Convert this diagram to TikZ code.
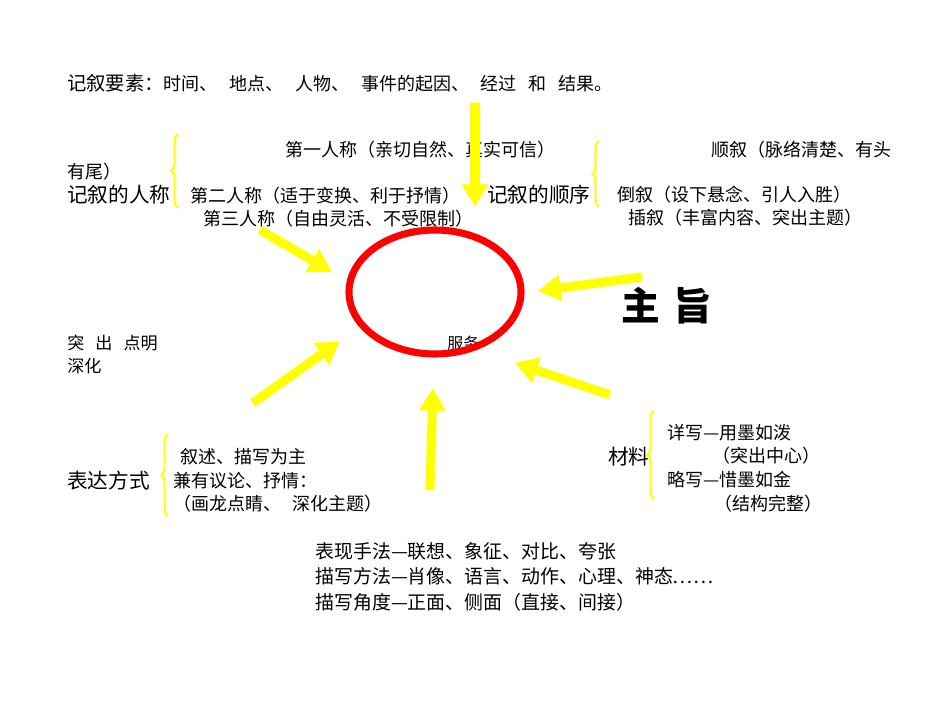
\documentclass[tikz,border=0pt]{standalone}
\usepackage{fontspec}
\setmainfont{Noto Sans CJK SC}
\usepackage{tikz}
\usetikzlibrary{arrows.meta, shapes.geometric, decorations.pathreplacing, positioning}
\definecolor{arrowyellow}{RGB}{255,255,0}
\definecolor{ringred}{RGB}{255,0,0}
\newcommand{\gap}{\hspace{0.65em}}
\tikzset{  
    body/.style={anchor=west, inner sep=0pt, font=\fontsize{13.5}{16}\selectfont},
    heading/.style={anchor=west, inner sep=0pt, font=\fontsize{15.5}{18}\selectfont},
    bottomline/.style={anchor=west, inner sep=0pt, font=\fontsize{14.2}{17}\selectfont},
    bigarrow/.style={draw=arrowyellow, line width=6.8pt, -{Triangle[width=19pt, length=17pt]}},
    ybrace/.style={draw=arrowyellow, line width=1.6pt, decorate, decoration={brace, amplitude=5pt}},
}

\begin{document}
\begin{tikzpicture}[x=0.75pt, y=-0.75pt]
            \useasboundingbox (0,0) rectangle (950,713);

            % top line
            \node[body] (elements) at (67, 83) {{\fontsize{14.5}{17}\selectfont 记叙要素：}时间、\gap 地点、\gap 人物、\gap 事件的起因、\gap 经过\gap 和\gap 结果。};

            \begin{scope}[local bounding box=person]
                \node[body] (first) at (285, 150) {第一人称（亲切自然、真实可信）};
                \node[body] (tail) at (67, 172) {有尾）};
                \node[heading] (person) at (67, 195) {记叙的人称};
                \node[body] (second) at (190, 196) {第二人称（适于变换、利于抒情）};
                \node[body] (third) at (203, 219) {第三人称（自由灵活、不受限制）};
                \draw[ybrace] (178, 208) -- (178, 134);
            \end{scope}

            \begin{scope}[local bounding box=order]
                \node[heading] (order) at (487, 195) {记叙的顺序};
                \node[body] (forward) at (711, 150) {顺叙（脉络清楚、有头};
                \node[body] (flashback) at (617, 195) {倒叙（设下悬念、引人入胜）};
                \node[body] (insert) at (628, 218) {插叙（丰富内容、突出主题）};
                \draw[ybrace] (599, 207) -- (599, 141);
            \end{scope}

            \node[anchor=west, inner sep=0pt, font=\fontsize{29}{33}\selectfont\bfseries] (theme) at (621, 306) {主\hspace{0.35em}旨};
            \node[body, font=\fontsize{12.8}{15}\selectfont] (stress) at (67, 343) {突\gap 出\gap 点明};
            \node[body, font=\fontsize{12.8}{15}\selectfont] (deepen) at (67, 366) {深化};
            \node[body, font=\fontsize{12}{14}\selectfont] (serve) at (447, 343) {服务};

            \begin{scope}[local bounding box=expression]
                \node[heading] (express) at (67, 481) {表达方式};
                \node[body] (narrate) at (180, 457) {叙述、描写为主};
                \node[body] (discuss) at (173, 481) {兼有议论、抒情：};
                \node[body] (dot) at (173, 504) {（画龙点睛、\gap 深化主题）};
                \draw[ybrace] (168, 516) -- (168, 434);
            \end{scope}

            \begin{scope}[local bounding box=material]
                \node[heading] (material) at (608, 457) {材料};
                \node[body] (detail) at (667, 433) {详写—用墨如泼};
                \node[body] (centre) at (712, 456) {（突出中心）};
                \node[body] (brief) at (667, 480) {略写—惜墨如金};
                \node[body] (frame) at (714, 504) {（结构完整）};
                \draw[ybrace] (654, 499) -- (654, 411);
            \end{scope}

            \node[bottomline] (method) at (315, 551) {表现手法—联想、象征、对比、夸张};
            \node[bottomline] (describe) at (315, 576) {描写方法—肖像、语言、动作、心理、神态……};
            \node[bottomline] (angle) at (315, 602) {描写角度—正面、侧面（直接、间接）};

            % the ring and the arrows
            \node[ellipse, draw=ringred, line width=5.3pt, minimum width=129pt, minimum height=93pt, inner sep=0pt] (ring) at (435, 292) {};

            \foreach \name/\from/\to in {down/{475,103}/{475,207}, upleft/{260,230}/{332,272},
                                         right/{642,277}/{538,291}, lowleft/{253,403}/{340,341},
                                         bottom/{430,490}/{433,388}, lowright/{610,395}/{515,363}} {
                \coordinate (\name-tail) at (\from);
                \coordinate (\name-tip) at (\to);
                \draw[bigarrow] (\name-tail) -- (\name-tip);
            }
\end{tikzpicture}
\end{document}
